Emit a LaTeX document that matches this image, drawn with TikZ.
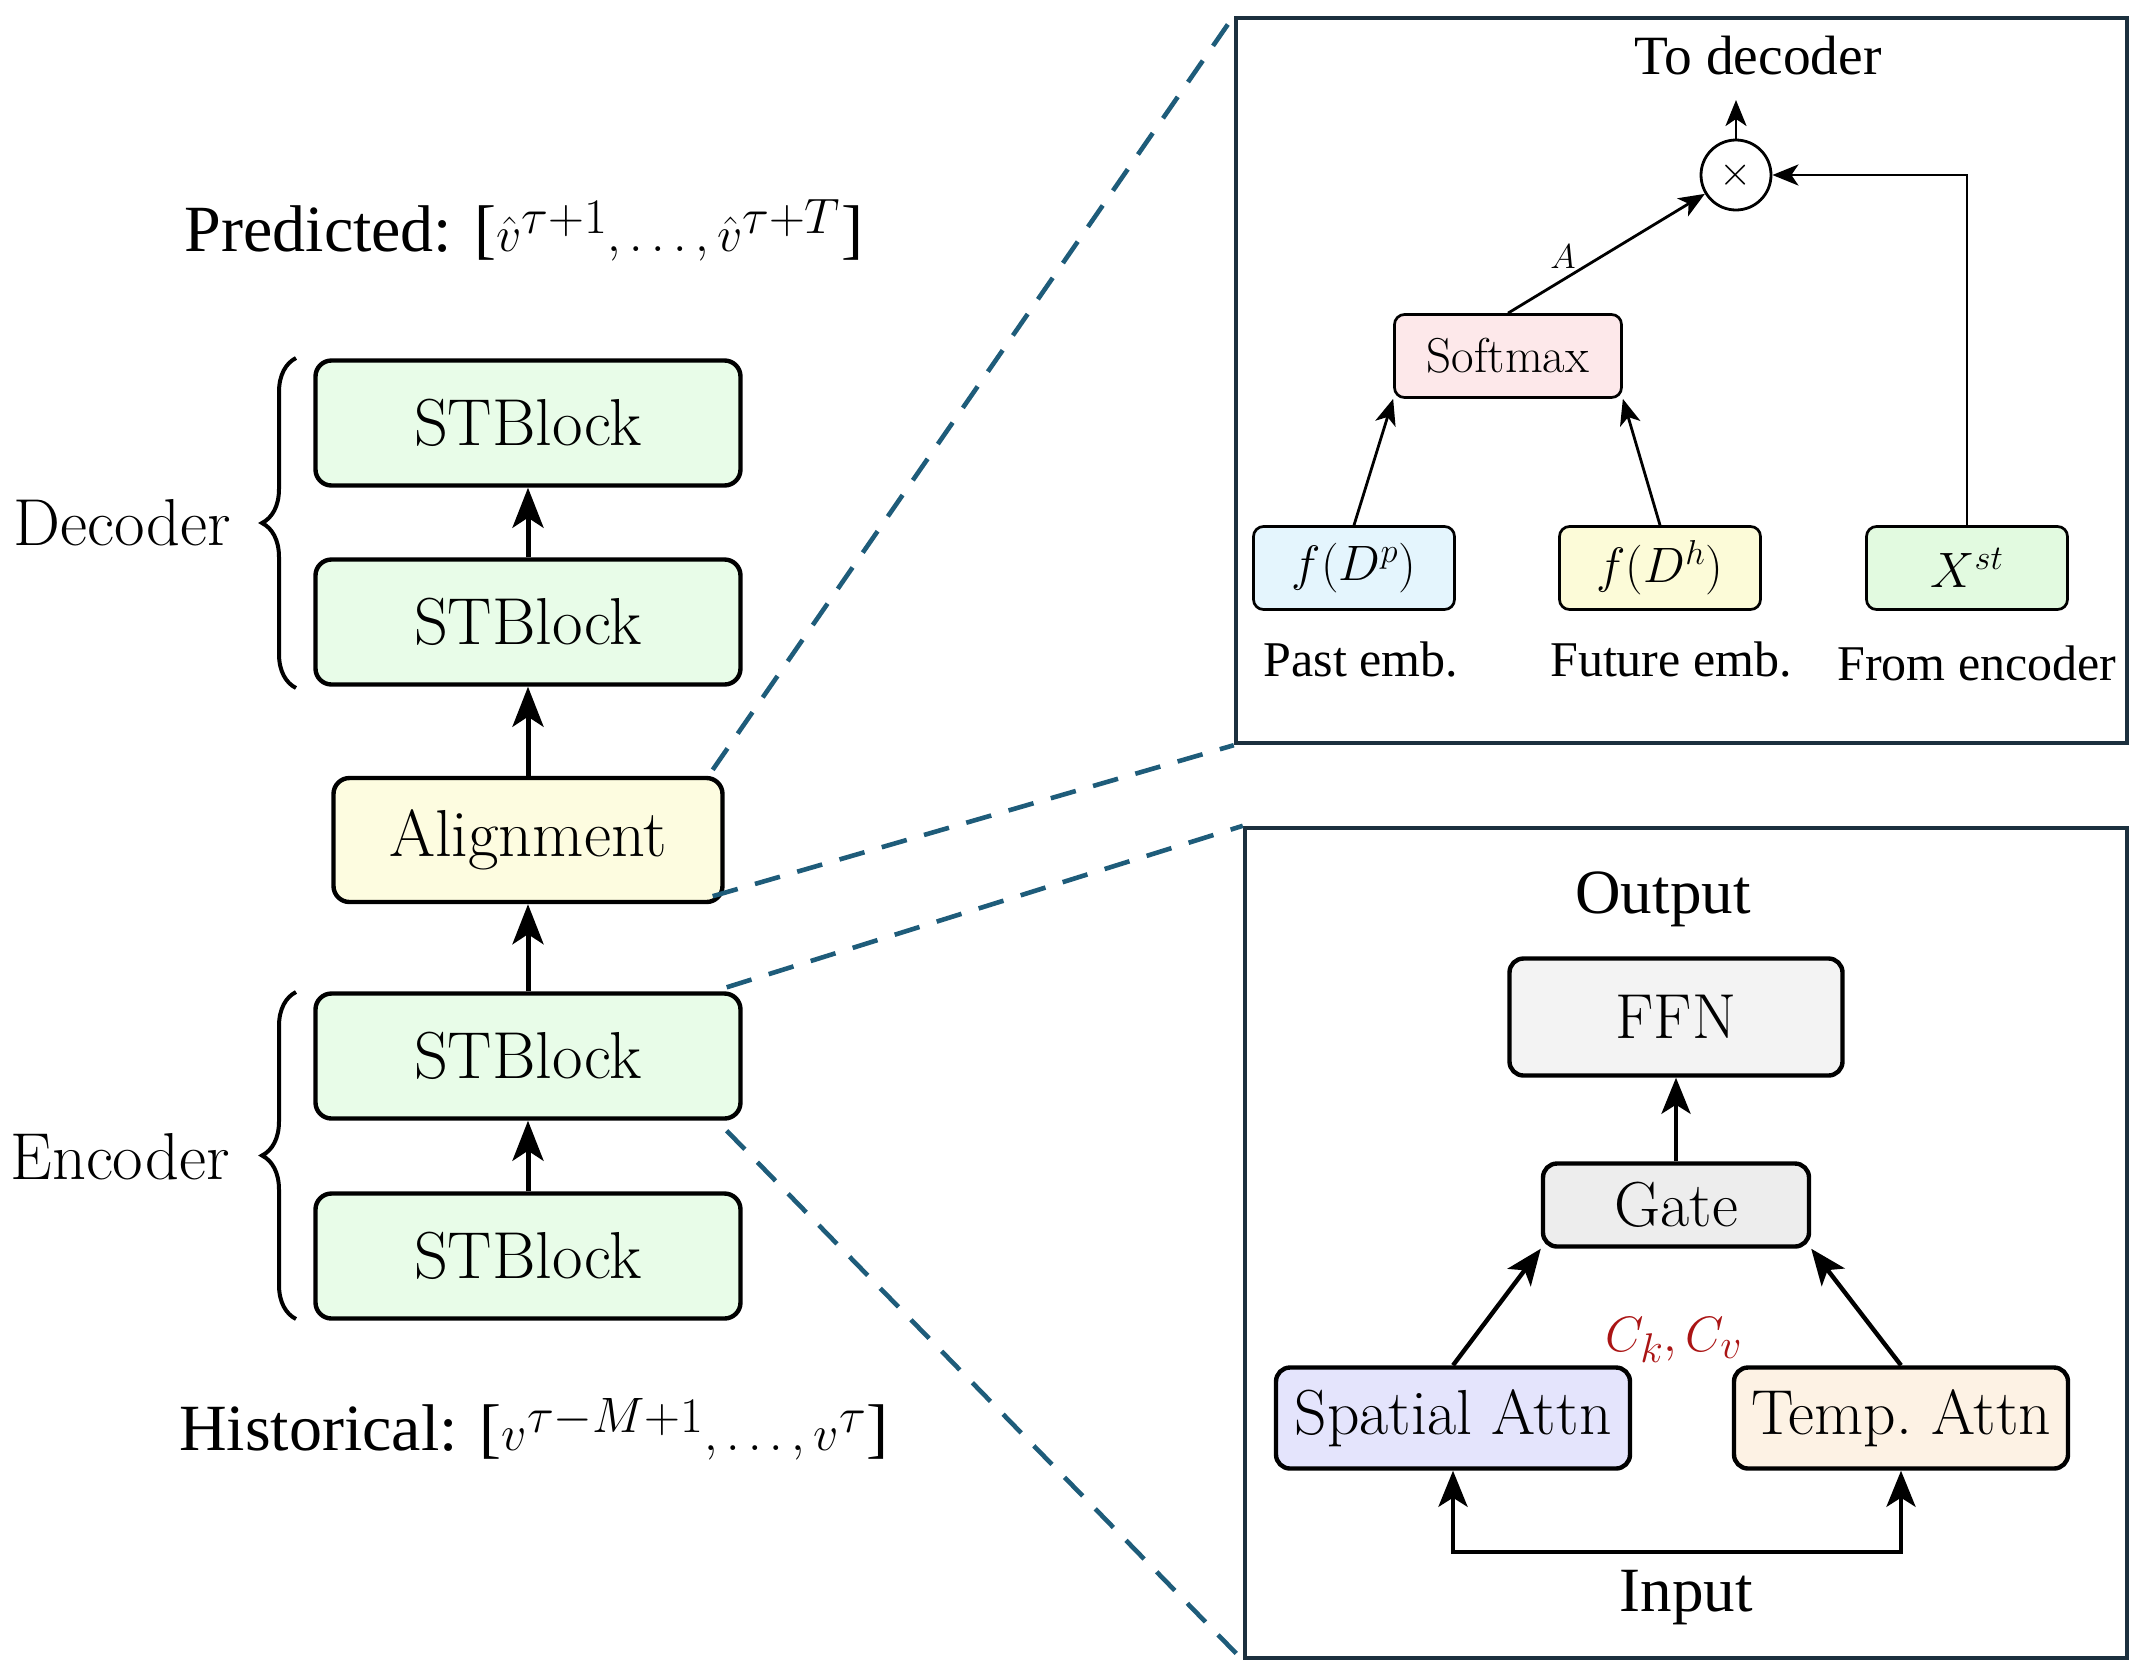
\documentclass[tikz,border=0pt]{standalone}
\usepackage{fontspec}
\newfontfamily\tnr{Liberation Serif}
\usetikzlibrary{arrows.meta,decorations.pathreplacing,calc}
\definecolor{stg}{RGB}{232,252,232}
\definecolor{aly}{RGB}{253,252,224}
\definecolor{smp}{RGB}{253,232,234}
\definecolor{fbl}{RGB}{228,245,253}
\definecolor{fye}{RGB}{252,251,216}
\definecolor{xgr}{RGB}{226,250,224}
\definecolor{ffng}{RGB}{243,243,243}
\definecolor{gatg}{RGB}{237,237,237}
\definecolor{spb}{RGB}{228,228,252}
\definecolor{tpe}{RGB}{253,242,228}
\definecolor{dashc}{RGB}{30,92,122}
\definecolor{framec}{RGB}{28,48,62}
\definecolor{ckred}{RGB}{170,20,20}
\tikzset{
  lbox/.style={draw=black, line width=2.2pt, rounded corners=8pt, fill=stg,
    minimum width=212.5pt, minimum height=62.5pt, inner sep=0pt,
    font=\fontsize{33.2}{39}\selectfont},
  larr/.style={line width=2.5pt, -{Stealth[length=20pt,width=15.5pt,inset=5pt]}},
  ltext/.style={font=\fontsize{33.2}{39}\selectfont, inner sep=0pt},
  ttext/.style={font=\tnr\fontsize{33}{39}\selectfont, inner sep=0pt},
  frame/.style={draw=framec, line width=2.2pt, inner sep=0pt},
  dashline/.style={draw=dashc, line width=2.3pt, dash pattern=on 13pt off 9pt},
  tbox/.style={draw=black, line width=1.35pt, rounded corners=5pt,
    minimum width=100.5pt, minimum height=41.5pt, inner sep=0pt,
    font=\fontsize{24.5}{29}\selectfont},
  tarr/.style={line width=1.4pt, -{Stealth[length=13pt,width=10.5pt,inset=3.5pt]}},
  tlab/.style={font=\tnr\fontsize{25}{30}\selectfont, inner sep=0pt},
  bbox/.style={draw=black, line width=2.2pt, rounded corners=7pt, inner sep=0pt,
    font=\fontsize{31.8}{38}\selectfont},
  barr/.style={line width=2.2pt, -{Stealth[length=18pt,width=14.5pt,inset=4.5pt]}},
  blab/.style={font=\tnr\fontsize{31.5}{38}\selectfont, inner sep=0pt},
}
\begin{document}
\begin{tikzpicture}[x=0.5pt,y=-0.5pt]
\useasboundingbox (0,0) rectangle (2154,1672);

% ---------- left column ----------
\node[ttext] (pred) at (524,230) {Predicted: [$\hat{v}^{\tau+1}, \ldots, \hat{v}^{\tau+T}$]};
\node[lbox] (dt) at (528,423) {STBlock};
\node[lbox] (db) at (528,622) {STBlock};
\node[lbox, fill=aly, minimum width=194.5pt, minimum height=62pt] (al) at (528,840) {Alignment};
\node[lbox] (et) at (528,1056) {STBlock};
\node[lbox] (eb) at (528,1256) {STBlock};
\node[ttext] (hist) at (534,1429) {Historical: [$v^{\tau-M+1}, \ldots, v^{\tau}$]};

\draw[larr] (db) -- (dt);
\draw[larr] (al) -- (db);
\draw[larr] (et) -- (al);
\draw[larr] (eb) -- (et);

\draw[line width=2pt, decorate, decoration={brace, amplitude=17pt}] (296,688) -- (296,358);
\draw[line width=2pt, decorate, decoration={brace, amplitude=17pt}] (296,1319) -- (296,992);
\node[ltext] (declab) at (122,523) {Decoder};
\node[ltext] (enclab) at (120,1157) {Encoder};

% ---------- frames ----------
\node[frame, minimum width=445.5pt, minimum height=362.5pt] (tf) at (1681.5,380.5) {};
\node[frame, minimum width=441pt, minimum height=415pt] (bf) at (1686,1243) {};

\draw[dashline] ($(al.north east)+(-12,-6)$) -- (tf.north west);
\draw[dashline] ($(al.south east)+(-12,-8)$) -- (tf.south west);
\draw[dashline] ($(et.north east)+(-16,-4)$) -- (bf.north west);
\draw[dashline] ($(et.south east)+(-16,10)$) -- (bf.south west);

% ---------- top box ----------
\node[tlab, font=\tnr\fontsize{27.7}{33}\selectfont] (todec) at (1758,56) {To decoder};
\coordinate (toup) at (1736,100);
\node[circle, draw=black, line width=1.4pt, minimum size=35pt, inner sep=0pt,
  font=\fontsize{20}{24}\selectfont] (mul) at (1736,175) {$\times$};
\node[tbox, fill=smp, minimum width=113.5pt] (soft) at (1508,356) {Softmax};
\node[tbox, fill=fbl] (fdp) at (1354,568) {$f(D^p)$};
\node[tbox, fill=fye] (fdh) at (1660,568) {$f(D^h)$};
\node[tbox, fill=xgr] (xst) at (1967,568) {$X^{st}$};
\node[tlab] (pastl) at (1361,659) {Past emb.};
\node[tlab] (futl) at (1671,659) {Future emb.};
\node[tlab] (froml) at (1977,663) {From encoder};

\draw[tarr] (mul) -- (toup);
\draw[tarr] (soft.north) -- node[pos=0.28, above=5pt, inner sep=0pt, font=\fontsize{19}{23}\selectfont] {$A$} (mul);
\draw[tarr] (fdp.north) -- (soft.south west);
\draw[tarr] (fdh.north) -- (soft.south east);
\draw[tarr] (xst.north) |- (mul.east);

% ---------- bottom box ----------
\node[blab] (outl) at (1663,899) {Output};
\node[bbox, fill=ffng, minimum width=166.5pt, minimum height=58.5pt] (ffn) at (1676,1017) {FFN};
\node[bbox, fill=gatg, minimum width=133pt, minimum height=41.5pt] (gate) at (1676,1205) {Gate};
\node[bbox, fill=spb, minimum width=177pt, minimum height=50.5pt] (sp) at (1453,1418) {Spatial Attn};
\node[bbox, fill=tpe, minimum width=167pt, minimum height=50.5pt] (tp) at (1901,1418) {Temp.\ Attn};
\node[text=ckred, inner sep=0pt, font=\fontsize{31}{37}\selectfont] (ck) at (1674,1340) {$C_k, C_v$};
\node[blab] (inl) at (1686,1598) {Input};
\coordinate (inb) at (1676,1552);

\draw[barr] (gate) -- (ffn);
\draw[barr] (sp.north) -- (gate.south west);
\draw[barr] (tp.north) -- (gate.south east);
\draw[line width=2.2pt, {Stealth[length=18pt,width=14.5pt,inset=4.5pt]}-{Stealth[length=18pt,width=14.5pt,inset=4.5pt]}]
  (sp.south) -- (sp.south |- inb) -- (tp.south |- inb) -- (tp.south);
\end{tikzpicture}
\end{document}
